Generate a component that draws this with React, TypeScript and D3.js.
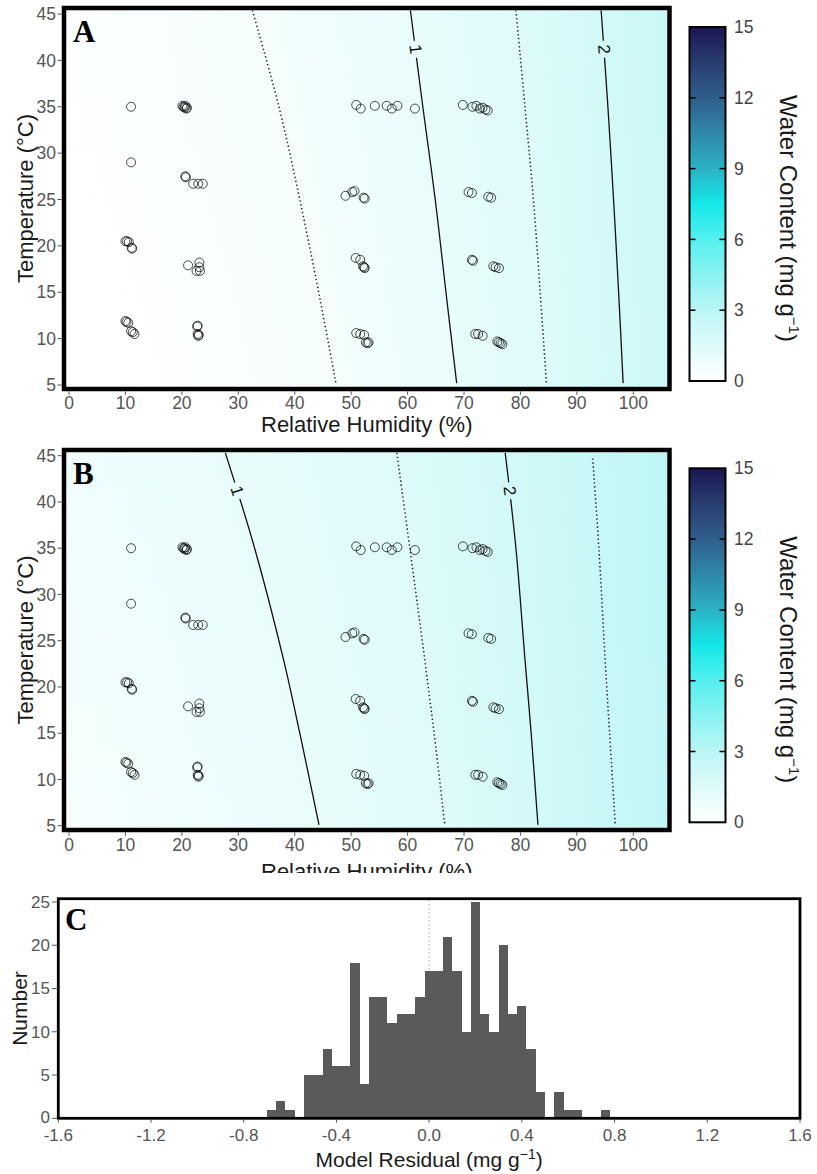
import React from "react";
import * as d3 from "d3";

const W = 817;
const H = 1174;
const fontSans = "'Liberation Sans', Arial, Helvetica, sans-serif";
const fontSerif = "'Liberation Serif', 'Times New Roman', serif";

// ---------- tick labels ----------
const rhTicks = [0, 10, 20, 30, 40, 50, 60, 70, 80, 90, 100];
const tempTicks = [5, 10, 15, 20, 25, 30, 35, 40, 45];
const colorbarTicks = [0, 3, 6, 9, 12, 15];
const residualTicks = [-1.6, -1.2, -0.8, -0.4, 0.0, 0.4, 0.8, 1.2, 1.6];
const countTicks = [0, 5, 10, 15, 20, 25];

// ---------- colormap (water content, mg g-1) ----------
const cmapValues = [0, 3, 6, 7.5, 9, 10.5, 12, 13.5, 15];
const cmapColors = ["#ffffff", "#bcf6f5", "#55f0ee", "#14e8e8", "#2bb2c4", "#2f88a9", "#2f5e8b", "#293d6f", "#1b1652"];

// ---------- observations [RH %, T °C] ----------
const observations: [number, number][] = [
  [11.0, 35.0], [11.0, 29.0],
  [20.1, 35.1], [20.3, 35.0], [20.5, 34.9], [20.6, 35.1], [20.8, 34.8], [20.9, 34.9],
  [20.6, 27.5], [20.7, 27.4], [22.0, 26.7], [22.9, 26.7], [23.7, 26.7],
  [50.9, 35.2], [51.7, 34.8], [54.2, 35.1], [56.3, 35.1], [57.2, 34.8], [58.2, 35.1], [61.3, 34.8],
  [69.8, 35.2], [71.5, 35.0], [72.2, 35.1], [72.8, 34.8], [73.3, 34.9], [73.8, 34.7], [74.2, 34.6],
  [49.0, 25.4], [50.2, 25.8], [50.6, 25.9], [52.2, 25.2], [52.4, 25.1],
  [70.8, 25.8], [71.4, 25.7], [74.3, 25.3], [74.8, 25.2],
  [10.0, 20.5], [10.3, 20.5], [10.6, 20.4], [11.1, 19.8], [11.2, 19.7],
  [21.1, 17.9], [23.1, 18.2], [23.1, 17.7], [22.6, 17.3], [23.2, 17.3],
  [10.0, 11.9], [10.2, 11.8], [10.5, 11.7], [11.0, 10.8], [11.3, 10.7], [11.6, 10.5],
  [22.7, 11.3], [22.8, 11.4], [22.8, 10.5], [22.9, 10.3], [23.0, 10.4],
  [50.8, 18.7], [51.6, 18.5], [52.1, 17.8], [52.3, 17.7], [52.4, 17.6],
  [50.9, 10.6], [51.6, 10.5], [52.3, 10.4], [52.6, 9.6], [52.9, 9.5], [53.1, 9.6],
  [71.4, 18.5], [71.6, 18.4], [75.2, 17.8], [75.6, 17.7], [76.2, 17.6],
  [72.0, 10.5], [72.5, 10.5], [73.3, 10.3], [75.9, 9.7], [76.2, 9.6], [76.5, 9.5], [76.8, 9.4],
];

// ---------- contour lines, points [T °C, RH %] ----------
const levelsA = [0.5, 1, 1.5, 2];
const contourA05: [number, number][] = [[45.4, 32.5], [35, 37.2], [25, 40.9], [14.2, 44.5], [5.2, 47.3]];
const contourA10: [number, number][] = [[45.4, 60.5], [35, 62.7], [25, 64.9], [15, 66.8], [5.2, 68.7]];
const contourA15: [number, number][] = [[45.4, 79.2], [35, 80.8], [25, 82.3], [15, 83.5], [5.2, 84.6]];
const contourA20: [number, number][] = [[45.4, 94.3], [35, 95.5], [25, 96.5], [15, 97.4], [5.2, 98.2]];

const levelsB = [1, 1.5, 2, 2.5];
const contourB10: [number, number][] = [[45.3, 27.7], [35, 32.9], [23, 38.0], [15, 40.9], [5.1, 44.3]];
const contourB15: [number, number][] = [[45.3, 58.1], [35, 60.4], [25, 62.6], [15, 64.7], [5.1, 66.6]];
const contourB20: [number, number][] = [[45.3, 77.3], [35, 79.2], [23, 80.8], [15, 81.9], [5.1, 83.1]];
const contourB25: [number, number][] = [[44.7, 92.8], [35, 93.9], [23, 95.0], [15, 95.8], [5.1, 96.8]];

const contourLabelTemp = 41.2;

// ---------- histogram of model residuals ----------
const binCenters = [
  -0.68, -0.64, -0.60, -0.56, -0.52, -0.48, -0.44, -0.40, -0.36, -0.32, -0.28, -0.24, -0.20,
  -0.16, -0.12, -0.08, -0.04, 0.00, 0.04, 0.08, 0.12, 0.16, 0.20, 0.24, 0.28, 0.32, 0.36,
  0.40, 0.44, 0.48, 0.52, 0.56, 0.60, 0.64, 0.68, 0.72, 0.76,
];
const binCounts = [
  1, 2, 1, 0, 5, 5, 8, 6, 6, 18, 4, 14, 14,
  11, 12, 12, 14, 17, 17, 21, 17, 10, 25, 12, 10, 20, 12,
  13, 8, 3, 0, 3, 1, 1, 0, 0, 1,
];
const binWidth = 0.04;

const cmap = d3
  .scaleLinear<string>()
  .domain(cmapValues)
  .range(cmapColors)
  .interpolate(d3.interpolateRgb)
  .clamp(true);

type PanelProps = {
  id: string;
  letter: string;
  borderTop: number;
  borderBottom: number;
  y45: number;
  y5: number;
  cbTop: number;
  cbBottom: number;
  levels: number[];
  contours: [number, number][][];
  tickBaseline: number;
  labelBaseline: number;
  labelClipY?: number;
};

function ContourPanel(p: PanelProps) {
  const left = 64;
  const right = 669.5;
  const bw = 4.5;
  const innerL = left + bw / 2;
  const innerR = right - bw / 2;
  const innerT = p.borderTop + bw / 2;
  const innerB = p.borderBottom - bw / 2;
  const x = d3.scaleLinear().domain([0, 100]).range([69, 633.3]);
  const y = d3.scaleLinear().domain([5, 45]).range([p.y5, p.y45]);
  const rhAt = p.contours.map((c) =>
    d3.scaleLinear().domain(c.map((d) => d[0])).range(c.map((d) => d[1]))
  );
  const L = p.levels;
  const n = L.length;
  const RL = x.invert(innerL);
  const RR = x.invert(innerR);

  const N = 64;
  const rowH = (innerB - innerT) / N;
  const rows = d3.range(N).map((i) => {
    const yc = innerT + (i + 0.5) * rowH;
    const T = y.invert(yc);
    const ps = rhAt.map((f) => f(T));
    const stops: [number, number][] = [];
    // field flattens toward dry air: softer slope left of the first contour
    const sL = (0.6 * (L[1] - L[0])) / (ps[1] - ps[0]);
    const vL = L[0] - (ps[0] - RL) * sL;
    if (vL < 0) {
      const r0 = ps[0] - L[0] / sL;
      stops.push([RL, 0], [r0, 0]);
    } else stops.push([RL, vL]);
    ps.forEach((pp, k) => stops.push([pp, L[k]]));
    const sR = (L[n - 1] - L[n - 2]) / (ps[n - 1] - ps[n - 2]);
    stops.push([RR, L[n - 1] + (RR - ps[n - 1]) * sR]);
    return {
      y: innerT + i * rowH,
      stops: stops.map(([r, v]) => ({
        offset: Math.min(1, Math.max(0, (x(r) - innerL) / (innerR - innerL))),
        color: cmap(Math.max(0, v)),
      })),
    };
  });

  const line = d3
    .line<[number, number]>()
    .x((d) => x(d[1]))
    .y((d) => y(d[0]))
    .curve(d3.curveCatmullRom.alpha(0.5));

  const labels = L.map((lev, k) => {
    if (lev % 1 !== 0) return null;
    const T = contourLabelTemp;
    const px = x(rhAt[k](T));
    const py = y(T);
    const ax = x(rhAt[k](T + 1));
    const ay = y(T + 1);
    const bx = x(rhAt[k](T - 1));
    const by = y(T - 1);
    const ang = (Math.atan2(by - ay, bx - ax) * 180) / Math.PI;
    return { lev, px, py, ang };
  }).filter(Boolean) as { lev: number; px: number; py: number; ang: number }[];

  const cb = d3.scaleLinear().domain([0, 15]).range([p.cbBottom, p.cbTop]);
  const cbL = 689.5;
  const cbR = 725.5;

  return (
    <g>
      <defs>
        <clipPath id={`clip-${p.id}`}>
          <rect x={innerL} y={innerT} width={innerR - innerL} height={innerB - innerT} />
        </clipPath>
        {rows.map((r, i) => (
          <linearGradient
            key={i}
            id={`g-${p.id}-${i}`}
            gradientUnits="userSpaceOnUse"
            x1={innerL}
            x2={innerR}
            y1={0}
            y2={0}
          >
            {r.stops.map((s, j) => (
              <stop key={j} offset={s.offset} stopColor={s.color} />
            ))}
          </linearGradient>
        ))}
        <mask id={`mask-${p.id}`} maskUnits="userSpaceOnUse" x={0} y={0} width={W} height={H}>
          <rect x={0} y={0} width={W} height={H} fill="white" />
          {labels.map((l) => (
            <rect
              key={l.lev}
              x={-8.5}
              y={-8}
              width={17}
              height={16}
              fill="black"
              transform={`translate(${l.px},${l.py}) rotate(${l.ang})`}
            />
          ))}
        </mask>
        <linearGradient id={`cb-${p.id}`} x1={0} y1={1} x2={0} y2={0}>
          {cmapValues.map((v, i) => (
            <stop key={i} offset={v / 15} stopColor={cmapColors[i]} />
          ))}
        </linearGradient>
        {p.labelClipY !== undefined && (
          <clipPath id={`lclip-${p.id}`}>
            <rect x={0} y={0} width={W} height={p.labelClipY} />
          </clipPath>
        )}
      </defs>

      <g clipPath={`url(#clip-${p.id})`}>
        {rows.map((r, i) => (
          <rect
            key={i}
            x={innerL}
            y={r.y}
            width={innerR - innerL}
            height={rowH + 0.6}
            fill={`url(#g-${p.id}-${i})`}
          />
        ))}
        <g mask={`url(#mask-${p.id})`}>
          {p.contours.map((c, k) => (
            <path
              key={k}
              d={line(c) || ""}
              fill="none"
              stroke={L[k] % 1 === 0 ? "#111" : "#222"}
              strokeWidth={L[k] % 1 === 0 ? 1.3 : 1.5}
              strokeDasharray={L[k] % 1 === 0 ? undefined : "1.4 2.6"}
            />
          ))}
        </g>
        {labels.map((l) => (
          <text
            key={l.lev}
            transform={`translate(${l.px},${l.py}) rotate(${l.ang})`}
            textAnchor="middle"
            dominantBaseline="central"
            fontFamily={fontSans}
            fontSize={17}
            fill="#111"
          >
            {l.lev}
          </text>
        ))}
        {observations.map((o, i) => (
          <circle
            key={i}
            cx={x(o[0])}
            cy={y(o[1])}
            r={4.5}
            fill="none"
            stroke="#000"
            strokeOpacity={0.7}
            strokeWidth={1}
          />
        ))}
      </g>

      <rect
        x={left}
        y={p.borderTop}
        width={right - left}
        height={p.borderBottom - p.borderTop}
        fill="none"
        stroke="#000"
        strokeWidth={bw}
      />

      {/* y axis */}
      {tempTicks.map((t) => (
        <g key={t}>
          <line x1={57.5} x2={left - bw / 2} y1={y(t)} y2={y(t)} stroke="#555" strokeWidth={1} />
          <text
            x={56}
            y={y(t)}
            dy="0.35em"
            textAnchor="end"
            fontFamily={fontSans}
            fontSize={17.5}
            fill="#555"
          >
            {t}
          </text>
        </g>
      ))}
      {/* x axis */}
      {rhTicks.map((t) => (
        <g key={t}>
          <line
            x1={x(t)}
            x2={x(t)}
            y1={p.borderBottom + bw / 2}
            y2={p.borderBottom + bw / 2 + 3.5}
            stroke="#555"
            strokeWidth={1}
          />
          <text
            x={x(t)}
            y={p.tickBaseline}
            textAnchor="middle"
            fontFamily={fontSans}
            fontSize={17.5}
            fill="#555"
          >
            {t}
          </text>
        </g>
      ))}
      <text
        x={(left + right) / 2}
        y={p.labelBaseline}
        textAnchor="middle"
        fontFamily={fontSans}
        fontSize={22}
        fill="#1a1a1a"
        clipPath={p.labelClipY !== undefined ? `url(#lclip-${p.id})` : undefined}
      >
        Relative Humidity (%)
      </text>
      <text
        transform={`translate(33,${(p.borderTop + p.borderBottom) / 2}) rotate(-90)`}
        textAnchor="middle"
        fontFamily={fontSans}
        fontSize={22}
        fill="#1a1a1a"
      >
        Temperature (°C)
      </text>
      <text
        x={73}
        y={p.borderTop + 34}
        fontFamily={fontSerif}
        fontWeight="bold"
        fontSize={31}
        fill="#000"
      >
        {p.letter}
      </text>

      {/* colorbar */}
      <rect
        x={cbL}
        y={p.cbTop}
        width={cbR - cbL}
        height={p.cbBottom - p.cbTop}
        fill={`url(#cb-${p.id})`}
        stroke="#000"
        strokeWidth={2}
      />
      {colorbarTicks.map((t) => (
        <g key={t}>
          {t > 0 && t < 15 && (
            <>
              <line x1={cbL} x2={cbL + 6} y1={cb(t)} y2={cb(t)} stroke="#000" strokeWidth={1.5} />
              <line x1={cbR - 6} x2={cbR} y1={cb(t)} y2={cb(t)} stroke="#000" strokeWidth={1.5} />
            </>
          )}
          <text
            x={734}
            y={cb(t)}
            dy="0.35em"
            fontFamily={fontSans}
            fontSize={17.5}
            fill="#444"
          >
            {t}
          </text>
        </g>
      ))}
      <text
        transform={`translate(780,${p.cbTop + 68}) rotate(90)`}
        textAnchor="start"
        fontFamily={fontSans}
        fontSize={24}
        fill="#1a1a1a"
      >
        Water Content (mg g
        <tspan dy={-9} fontSize={15}>
          −1
        </tspan>
        <tspan dy={9}>)</tspan>
      </text>
    </g>
  );
}

function Histogram() {
  const left = 58.3;
  const right = 800;
  const top = 898.7;
  const bottom = 1118.3;
  const bw = 2.8;
  const x = d3.scaleLinear().domain([-1.6, 1.6]).range([left, right]);
  const y = d3.scaleLinear().domain([0, 25]).range([bottom, 902]);
  return (
    <g>
      <line
        x1={x(0)}
        x2={x(0)}
        y1={top + bw / 2}
        y2={bottom}
        stroke="#aaa"
        strokeWidth={1}
        strokeDasharray="1.5 2.5"
      />
      {binCenters.map((c, i) =>
        binCounts[i] > 0 ? (
          <rect
            key={i}
            x={x(c - binWidth / 2)}
            y={y(binCounts[i])}
            width={x(c + binWidth / 2) - x(c - binWidth / 2)}
            height={y(0) - y(binCounts[i])}
            fill="#5a5a5a"
            shapeRendering="crispEdges"
          />
        ) : null
      )}
      <rect
        x={left}
        y={top}
        width={right - left}
        height={bottom - top}
        fill="none"
        stroke="#000"
        strokeWidth={bw}
      />
      {countTicks.map((t) => (
        <g key={t}>
          <line x1={52} x2={left - bw / 2} y1={y(t)} y2={y(t)} stroke="#555" strokeWidth={1} />
          <text
            x={50}
            y={y(t) - (t === 0 ? 1 : 0)}
            dy="0.35em"
            textAnchor="end"
            fontFamily={fontSans}
            fontSize={17}
            fill="#555"
          >
            {t}
          </text>
        </g>
      ))}
      {residualTicks.map((t) => (
        <g key={t}>
          <line
            x1={x(t)}
            x2={x(t)}
            y1={bottom + bw / 2}
            y2={bottom + bw / 2 + 3}
            stroke="#555"
            strokeWidth={1}
          />
          <text
            x={x(t)}
            y={1141}
            textAnchor="middle"
            fontFamily={fontSans}
            fontSize={17}
            fill="#555"
          >
            {t.toFixed(1)}
          </text>
        </g>
      ))}
      <text
        x={x(0)}
        y={1166.5}
        textAnchor="middle"
        fontFamily={fontSans}
        fontSize={21}
        fill="#1a1a1a"
      >
        Model Residual (mg g
        <tspan dy={-8} fontSize={14}>
          −1
        </tspan>
        <tspan dy={8}>)</tspan>
      </text>
      <text
        transform={`translate(27,${(top + bottom) / 2}) rotate(-90)`}
        textAnchor="middle"
        fontFamily={fontSans}
        fontSize={21}
        fill="#1a1a1a"
      >
        Number
      </text>
      <text x={65} y={930} fontFamily={fontSerif} fontWeight="bold" fontSize={31} fill="#000">
        C
      </text>
    </g>
  );
}

export default function App() {
  return (
    <svg
      width={W}
      height={H}
      viewBox={`0 0 ${W} ${H}`}
      style={{ position: "absolute", left: 0, top: 0, display: "block", background: "#fff" }}
    >
      <rect x={0} y={0} width={W} height={H} fill="#fff" />
      <ContourPanel
        id="A"
        letter="A"
        borderTop={8}
        borderBottom={389}
        y45={14}
        y5={385}
        cbTop={27}
        cbBottom={381}
        levels={levelsA}
        contours={[contourA05, contourA10, contourA15, contourA20]}
        tickBaseline={409}
        labelBaseline={432.3}
      />
      <ContourPanel
        id="B"
        letter="B"
        borderTop={450}
        borderBottom={830}
        y45={455.7}
        y5={825.7}
        cbTop={468.3}
        cbBottom={822.3}
        levels={levelsB}
        contours={[contourB10, contourB15, contourB20, contourB25]}
        tickBaseline={850.7}
        labelBaseline={879}
        labelClipY={873}
      />
      <Histogram />
    </svg>
  );
}
